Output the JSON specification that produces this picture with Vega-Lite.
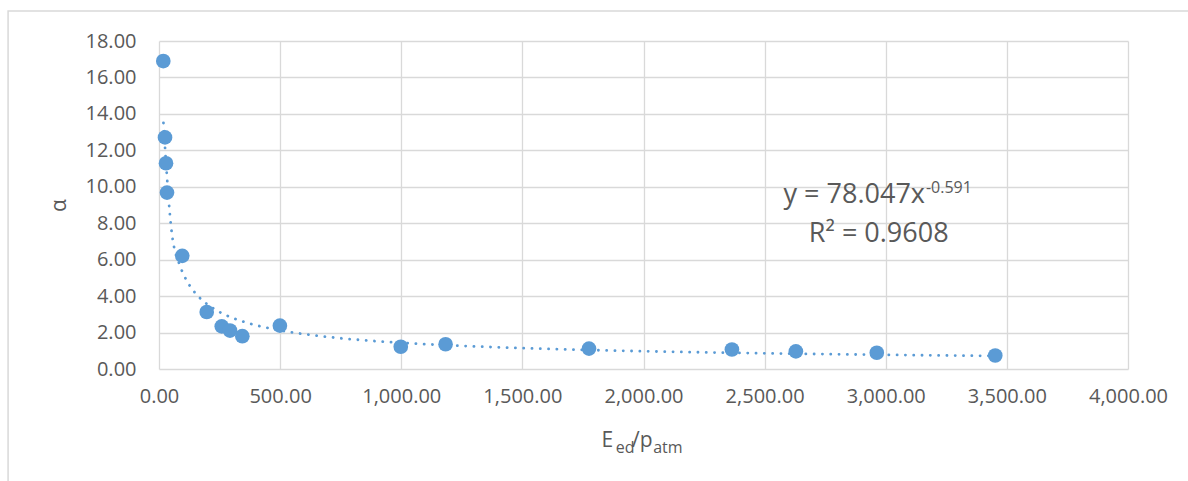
{
  "$schema": "https://vega.github.io/schema/vega-lite/v6.json",
  "width": 969,
  "height": 328,
  "autosize": "none",
  "padding": {"left": 159, "top": 41, "right": 60, "bottom": 112},
  "background": "white",
  "config": {
    "view": {"stroke": null},
    "font": "Open Sans",
    "axis": {
      "gridColor": "#d9d9d9",
      "gridWidth": 1.3,
      "domain": false,
      "ticks": false,
      "tickSize": 0,
      "labelFlush": false,
      "labelOverlap": false,
      "labelColor": "#595959",
      "labelFontSize": 20,
      "labelFont": "Open Sans",
      "titleColor": "#595959",
      "titleFont": "Open Sans",
      "titleFontWeight": "normal",
      "titleFontSize": 21
    }
  },
  "datasets": {
    "points": [
      {"E": 17.7, "alpha": 16.90},
      {"E": 24.8, "alpha": 12.71},
      {"E": 28.9, "alpha": 11.29},
      {"E": 33, "alpha": 9.68},
      {"E": 96, "alpha": 6.21},
      {"E": 197, "alpha": 3.13},
      {"E": 259, "alpha": 2.34},
      {"E": 293, "alpha": 2.11},
      {"E": 344, "alpha": 1.80},
      {"E": 499, "alpha": 2.38},
      {"E": 998, "alpha": 1.22},
      {"E": 1183, "alpha": 1.36},
      {"E": 1775, "alpha": 1.12},
      {"E": 2365, "alpha": 1.07},
      {"E": 2629, "alpha": 0.97},
      {"E": 2963, "alpha": 0.89},
      {"E": 3452, "alpha": 0.74}
    ],
    "eqMain": [{"label": "y = 78.047x", "E": 3162, "alpha": 9.13}],
    "eqSup": [{"label": "-0.591", "E": 3166, "alpha": 9.68}],
    "r2": [{"label": "R² = 0.9608", "E": 2971, "alpha": 6.99}],
    "titleBig": [
      {"label": "E", "E": 1827, "alpha": -4.26},
      {"label": "/p", "E": 1953, "alpha": -4.26}
    ],
    "titleSub": [
      {"label": "ed", "E": 1885, "alpha": -4.63},
      {"label": "atm", "E": 2040, "alpha": -4.63}
    ]
  },
  "layer": [
    {
      "data": {"name": "points"},
      "transform": [
        {"regression": "alpha", "on": "E", "method": "pow", "extent": [18.4, 3452]}
      ],
      "mark": {"type": "line", "color": "#5B9BD5", "strokeWidth": 2.8, "strokeDash": [0.1, 8.2], "strokeCap": "round", "interpolate": "monotone"},
      "encoding": {
        "x": {
          "field": "E", "type": "quantitative",
          "scale": {"domain": [0, 4000], "nice": false, "zero": false},
          "axis": {"values": [0, 500, 1000, 1500, 2000, 2500, 3000, 3500, 4000], "format": ",.2f", "title": null, "labelPadding": 17, "grid": true}
        },
        "y": {
          "field": "alpha", "type": "quantitative",
          "scale": {"domain": [0, 18], "nice": false, "zero": false},
          "axis": {"values": [0, 2, 4, 6, 8, 10, 12, 14, 16, 18], "format": ".2f", "title": "α", "labelPadding": 23, "titlePadding": 16, "grid": true}
        }
      }
    },
    {
      "data": {"name": "points"},
      "mark": {"type": "circle", "size": 215, "color": "#5B9BD5", "opacity": 1},
      "encoding": {
        "x": {
          "field": "E", "type": "quantitative",
          "scale": {"domain": [0, 4000], "nice": false, "zero": false},
          "axis": {"values": [0, 500, 1000, 1500, 2000, 2500, 3000, 3500, 4000], "format": ",.2f", "title": null, "labelPadding": 17, "grid": true}
        },
        "y": {
          "field": "alpha", "type": "quantitative",
          "scale": {"domain": [0, 18], "nice": false, "zero": false},
          "axis": {"values": [0, 2, 4, 6, 8, 10, 12, 14, 16, 18], "format": ".2f", "title": "α", "labelPadding": 23, "titlePadding": 16, "grid": true}
        }
      }
    },
    {
      "data": {"name": "eqMain"},
      "mark": {"type": "text", "fontSize": 27, "align": "right", "baseline": "alphabetic", "color": "#595959", "font": "Open Sans"},
      "encoding": {
        "x": {
          "field": "E", "type": "quantitative",
          "scale": {"domain": [0, 4000], "nice": false, "zero": false},
          "axis": {"values": [0, 500, 1000, 1500, 2000, 2500, 3000, 3500, 4000], "format": ",.2f", "title": null, "labelPadding": 17, "grid": true}
        },
        "y": {
          "field": "alpha", "type": "quantitative",
          "scale": {"domain": [0, 18], "nice": false, "zero": false},
          "axis": {"values": [0, 2, 4, 6, 8, 10, 12, 14, 16, 18], "format": ".2f", "title": "α", "labelPadding": 23, "titlePadding": 16, "grid": true}
        },
        "text": {"field": "label"}
      }
    },
    {
      "data": {"name": "eqSup"},
      "mark": {"type": "text", "fontSize": 16, "align": "left", "baseline": "alphabetic", "color": "#595959", "font": "Open Sans"},
      "encoding": {
        "x": {
          "field": "E", "type": "quantitative",
          "scale": {"domain": [0, 4000], "nice": false, "zero": false},
          "axis": {"values": [0, 500, 1000, 1500, 2000, 2500, 3000, 3500, 4000], "format": ",.2f", "title": null, "labelPadding": 17, "grid": true}
        },
        "y": {
          "field": "alpha", "type": "quantitative",
          "scale": {"domain": [0, 18], "nice": false, "zero": false},
          "axis": {"values": [0, 2, 4, 6, 8, 10, 12, 14, 16, 18], "format": ".2f", "title": "α", "labelPadding": 23, "titlePadding": 16, "grid": true}
        },
        "text": {"field": "label"}
      }
    },
    {
      "data": {"name": "r2"},
      "mark": {"type": "text", "fontSize": 27, "align": "center", "baseline": "alphabetic", "color": "#595959", "font": "Open Sans"},
      "encoding": {
        "x": {
          "field": "E", "type": "quantitative",
          "scale": {"domain": [0, 4000], "nice": false, "zero": false},
          "axis": {"values": [0, 500, 1000, 1500, 2000, 2500, 3000, 3500, 4000], "format": ",.2f", "title": null, "labelPadding": 17, "grid": true}
        },
        "y": {
          "field": "alpha", "type": "quantitative",
          "scale": {"domain": [0, 18], "nice": false, "zero": false},
          "axis": {"values": [0, 2, 4, 6, 8, 10, 12, 14, 16, 18], "format": ".2f", "title": "α", "labelPadding": 23, "titlePadding": 16, "grid": true}
        },
        "text": {"field": "label"}
      }
    },
    {
      "data": {"name": "titleBig"},
      "mark": {"type": "text", "fontSize": 21, "align": "left", "baseline": "alphabetic", "color": "#595959", "font": "Open Sans"},
      "encoding": {
        "x": {
          "field": "E", "type": "quantitative",
          "scale": {"domain": [0, 4000], "nice": false, "zero": false},
          "axis": {"values": [0, 500, 1000, 1500, 2000, 2500, 3000, 3500, 4000], "format": ",.2f", "title": null, "labelPadding": 17, "grid": true}
        },
        "y": {
          "field": "alpha", "type": "quantitative",
          "scale": {"domain": [0, 18], "nice": false, "zero": false},
          "axis": {"values": [0, 2, 4, 6, 8, 10, 12, 14, 16, 18], "format": ".2f", "title": "α", "labelPadding": 23, "titlePadding": 16, "grid": true}
        },
        "text": {"field": "label"}
      }
    },
    {
      "data": {"name": "titleSub"},
      "mark": {"type": "text", "fontSize": 16, "align": "left", "baseline": "alphabetic", "color": "#595959", "font": "Open Sans"},
      "encoding": {
        "x": {
          "field": "E", "type": "quantitative",
          "scale": {"domain": [0, 4000], "nice": false, "zero": false},
          "axis": {"values": [0, 500, 1000, 1500, 2000, 2500, 3000, 3500, 4000], "format": ",.2f", "title": null, "labelPadding": 17, "grid": true}
        },
        "y": {
          "field": "alpha", "type": "quantitative",
          "scale": {"domain": [0, 18], "nice": false, "zero": false},
          "axis": {"values": [0, 2, 4, 6, 8, 10, 12, 14, 16, 18], "format": ".2f", "title": "α", "labelPadding": 23, "titlePadding": 16, "grid": true}
        },
        "text": {"field": "label"}
      }
    },
    {
      "data": {"values": [{}]},
      "mark": {"type": "rect", "fill": null, "stroke": "#d9d9d9", "strokeWidth": 1.5, "clip": false},
      "encoding": {
        "x": {
          "datum": -623, "type": "quantitative",
          "scale": {"domain": [0, 4000], "nice": false, "zero": false},
          "axis": {"values": [0, 500, 1000, 1500, 2000, 2500, 3000, 3500, 4000], "format": ",.2f", "title": null, "labelPadding": 17, "grid": true}
        },
        "x2": {"datum": 6000},
        "y": {
          "datum": 19.65, "type": "quantitative",
          "scale": {"domain": [0, 18], "nice": false, "zero": false},
          "axis": {"values": [0, 2, 4, 6, 8, 10, 12, 14, 16, 18], "format": ".2f", "title": "α", "labelPadding": 23, "titlePadding": 16, "grid": true}
        },
        "y2": {"datum": -12}
      }
    }
  ]
}
